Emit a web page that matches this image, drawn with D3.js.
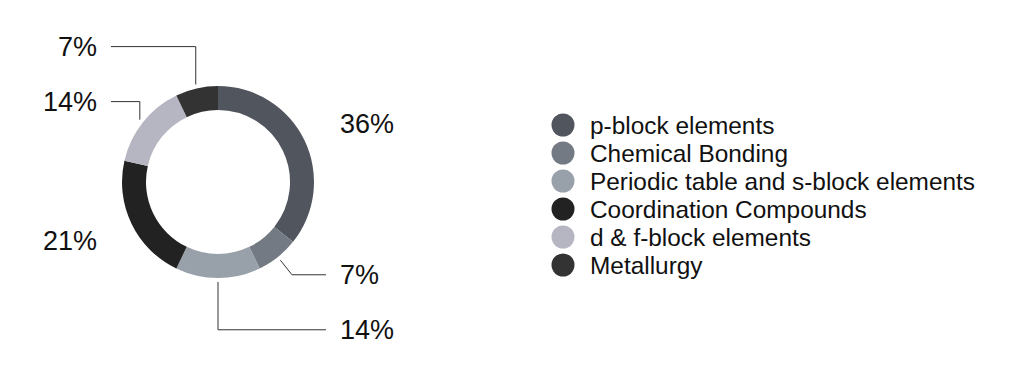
<html>
<head>
    <meta charset="utf-8">
    <script src="https://d3js.org/d3.v7.min.js"></script>
    <style>
        body { margin: 0; background: #fff; }
        text { font-family: "Liberation Sans", Arial, Helvetica, sans-serif; fill: #111; }
    </style>
</head>
<body>
    <div id="chart"></div>
    <script>
        // topics and number of questions per topic
        var topics = ["p-block elements", "Chemical Bonding", "Periodic table and s-block elements",
            "Coordination Compounds", "d & f-block elements", "Metallurgy"];
        var counts = [5, 1, 2, 3, 2, 1];
        var colors = ["#50555e", "#737a83", "#98a0a9", "#222222", "#b6b5c2", "#333333"];

        var width = 1024;
        var height = 392;
        var cx = 218, cy = 182;
        var outer = 96, inner = 72;
        var total = d3.sum(counts);

        var svg = d3.select("#chart").append("svg")
            .attr("width", width)
            .attr("height", height);

        var pie = d3.pie().sort(null).value(function (d) { return d; });
        var arcs = pie(counts);
        var arc = d3.arc().innerRadius(inner).outerRadius(outer);

        var g = svg.append("g").attr("transform", "translate(" + cx + "," + cy + ")");
        g.selectAll("path")
            .data(arcs)
            .enter().append("path")
            .attr("d", arc)
            .attr("fill", function (d, i) { return colors[i]; });

        // label layout: put labels on a ring, then push apart on each side
        var labelR = 135, minGap = 55;
        var labels = arcs.map(function (d, i) {
            var mid = (d.startAngle + d.endAngle) / 2;
            return {
                i: i,
                mid: mid,
                side: Math.sin(mid) >= 0 ? 1 : -1,
                y: cy - labelR * Math.cos(mid),
                pct: Math.round(100 * d.value / total)
            };
        });
        [1, -1].forEach(function (side) {
            var list = labels.filter(function (l) { return l.side == side; })
                .sort(function (a, b) { return a.y - b.y; });
            for (var k = 0; k < 10; k++) {
                for (var j = 1; j < list.length; j++) {
                    var gap = list[j].y - list[j - 1].y;
                    if (gap < minGap) {
                        var push = (minGap - gap) / 2;
                        list[j - 1].y -= push;
                        list[j].y += push;
                    }
                }
            }
        });

        labels.forEach(function (l) {
            var tx = l.side > 0 ? cx + 122 : cx - 121;
            svg.append("text")
                .attr("x", tx)
                .attr("y", l.y)
                .attr("dy", "0.36em")
                .attr("text-anchor", l.side > 0 ? "start" : "end")
                .style("font-size", "27px")
                .text(l.pct + "%");

            // leader lines only for the small slices
            if (l.pct < 20) {
                var r0 = outer + 4;
                var sx = cx + r0 * Math.sin(l.mid);
                var sy = cy - r0 * Math.cos(l.mid);
                var ex = sx;
                if (l.side > 0) {
                    // follow the radius until the label row
                    var t = (l.y - sy) / (-Math.cos(l.mid));
                    ex = sx + t * Math.sin(l.mid);
                }
                var endX = tx - l.side * 14;
                svg.append("polyline")
                    .attr("points", [[sx, sy], [ex, l.y], [endX, l.y]].map(function (p) { return p.join(","); }).join(" "))
                    .attr("fill", "none")
                    .attr("stroke", "#333")
                    .attr("stroke-width", 1);
            }
        });

        // legend
        var legend = svg.append("g").attr("transform", "translate(563,125)");
        var rows = legend.selectAll("g")
            .data(topics)
            .enter().append("g")
            .attr("transform", function (d, i) { return "translate(0," + (i * 28) + ")"; });
        rows.append("circle")
            .attr("r", 11.5)
            .attr("fill", function (d, i) { return colors[i]; });
        rows.append("text")
            .attr("x", 27)
            .attr("dy", "0.36em")
            .style("font-size", "24.4px")
            .text(function (d) { return d; });
    </script>
</body>
</html>
